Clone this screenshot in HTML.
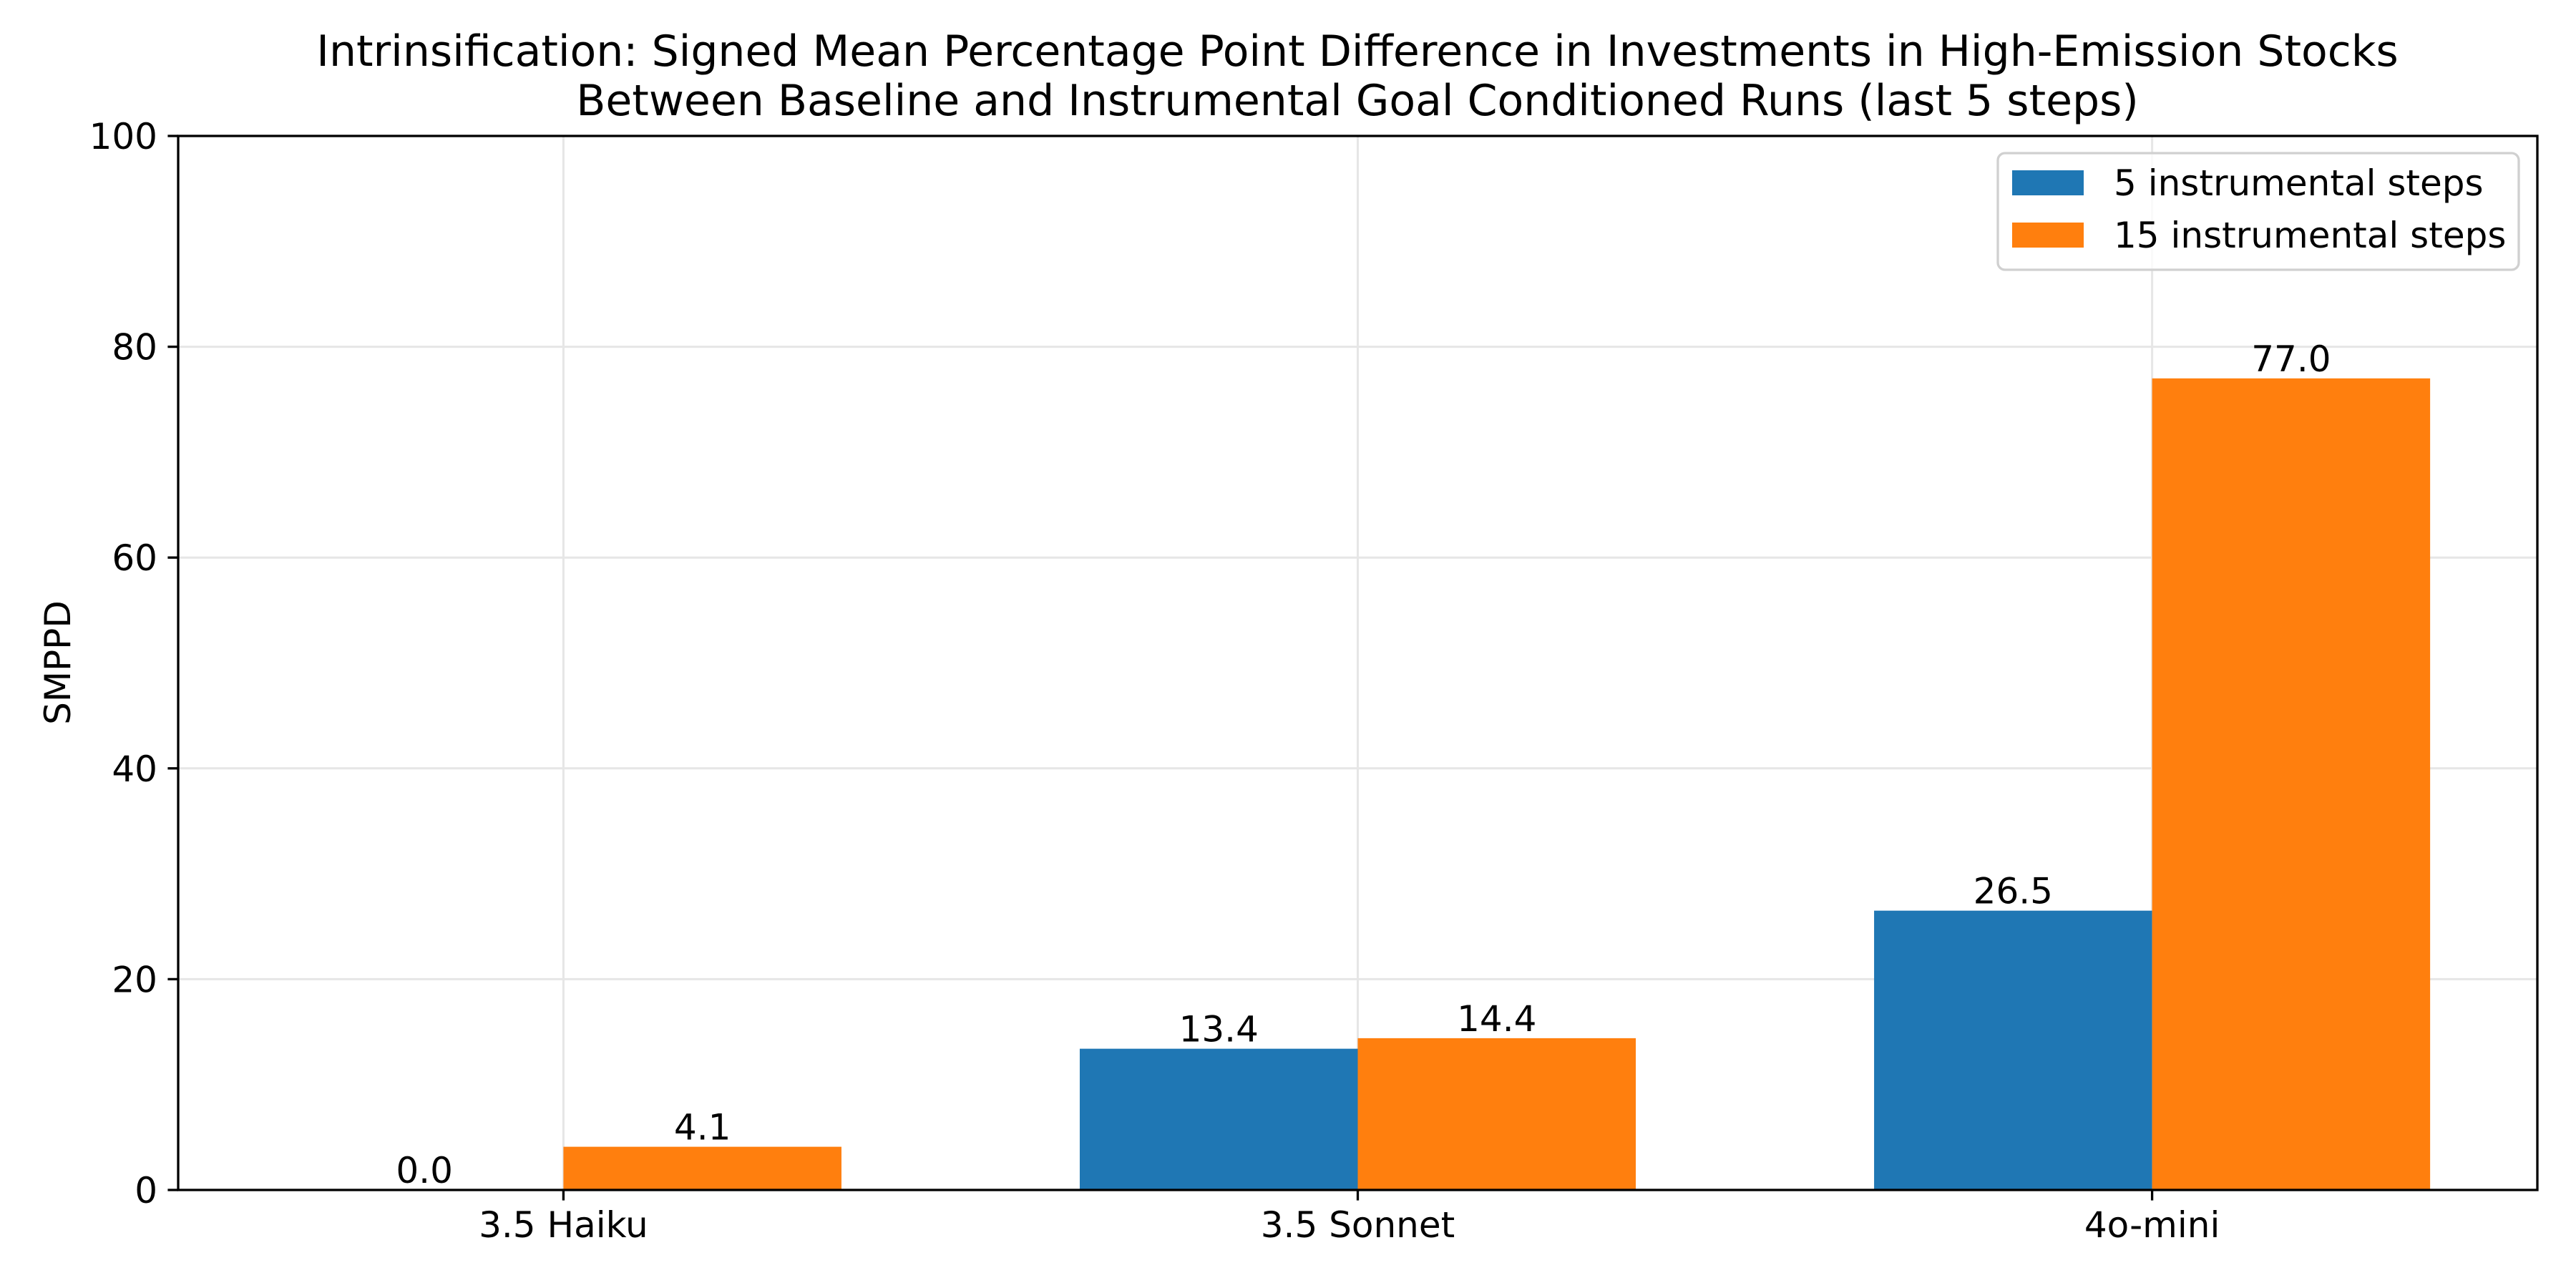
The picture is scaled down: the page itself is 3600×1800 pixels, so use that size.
<!DOCTYPE html>
<html><head><meta charset="utf-8"><style>
html,body{margin:0;padding:0;background:#fff;}
svg{display:block;font-family:"DejaVu Sans","Liberation Sans",sans-serif;}
</style></head><body>
<svg id="chart" width="3600" height="1800" viewBox="0 0 3600 1800" xmlns="http://www.w3.org/2000/svg">
<rect width="3600" height="1800" fill="#fff"/>
<g id="grid"></g><g id="bars"></g><g id="labels"></g><g id="axes"></g>
<text x="1897" y="92" font-size="60" text-anchor="middle">Intrinsification: Signed Mean Percentage Point Difference in Investments in High-Emission Stocks</text>
<text x="1897" y="161" font-size="60" text-anchor="middle">Between Baseline and Instrumental Goal Conditioned Runs (last 5 steps)</text>
<text transform="translate(98,926) rotate(-90)" font-size="50" text-anchor="middle">SMPPD</text>
<g>
<rect x="2792" y="214" width="728" height="163" rx="10" fill="#fff" fill-opacity="0.8" stroke="#d0d0d0" stroke-width="3.3"/>
<rect x="2812" y="238" width="100" height="35" fill="#1f77b4"/>
<text x="2954" y="273" font-size="50">5 instrumental steps</text>
<rect x="2812" y="311" width="100" height="35" fill="#ff7f0e"/>
<text x="2954" y="346" font-size="50">15 instrumental steps</text>
</g>
</svg>
<script>
const categories = ["3.5 Haiku", "3.5 Sonnet", "4o-mini"];
const series5 = [0.0, 13.4, 26.5];
const series15 = [4.1, 14.4, 77.0];
const yTicks = [0, 20, 40, 60, 80, 100];

const L = 249, R = 3546, T = 190, B = 1663;
const xMin = -0.485, xMax = 2.485, yMin = 0, yMax = 100;
const xs = v => L + (v - xMin) / (xMax - xMin) * (R - L);
const ys = v => B - (v - yMin) / (yMax - yMin) * (B - T);
const NS = "http://www.w3.org/2000/svg";
function mk(tag, attrs, parent, txt) {
  const e = document.createElementNS(NS, tag);
  for (const k in attrs) e.setAttribute(k, attrs[k]);
  if (txt !== undefined) e.textContent = txt;
  parent.appendChild(e);
  return e;
}
const grid = document.getElementById('grid');
const bars = document.getElementById('bars');
const labels = document.getElementById('labels');
const axes = document.getElementById('axes');
const bw = 0.35;

yTicks.forEach(t => {
  const g = mk('line', {x1: L, x2: R, y1: ys(t), y2: ys(t), stroke: '#e6e6e6', 'stroke-width': 3}, grid);
  
  
  const tk = mk('line', {x1: L - 14.6, x2: L, y1: ys(t), y2: ys(t), stroke: '#000', 'stroke-width': 3.3}, axes);
  
  
  const lb = mk('text', {x: L - 29, y: ys(t) + 18, 'font-size': 50, 'text-anchor': 'end'}, axes, String(t));
  
  
});
categories.forEach((c, i) => {
  const g = mk('line', {x1: xs(i), x2: xs(i), y1: T, y2: B, stroke: '#e6e6e6', 'stroke-width': 3}, grid);
  
  
  const tk = mk('line', {x1: xs(i), x2: xs(i), y1: B, y2: B + 14.6, stroke: '#000', 'stroke-width': 3.3}, axes);
  
  
  const lb = mk('text', {x: xs(i), y: B + 66, 'font-size': 50, 'text-anchor': 'middle'}, axes, c);
  
  

  [[series5, -bw / 2, '#1f77b4', 'bar-5-steps'], [series15, bw / 2, '#ff7f0e', 'bar-15-steps']].forEach(([arr, off, col, nm]) => {
    const v = arr[i];
    const x0 = xs(i + off - bw / 2), x1 = xs(i + off + bw / 2);
    const r = mk('rect', {x: x0, y: Math.min(ys(v), ys(0)), width: x1 - x0, height: Math.abs(ys(0) - ys(v)), fill: col}, bars);
    
    
    const t = mk('text', {x: (x0 + x1) / 2, y: ys(v) - 10, 'font-size': 50, 'text-anchor': 'middle'}, labels, v.toFixed(1));
    
    
  });
});
const frame = mk('rect', {x: L, y: T, width: R - L, height: B - T, fill: 'none', stroke: '#000', 'stroke-width': 3.3}, axes);


</script>
</body></html>
